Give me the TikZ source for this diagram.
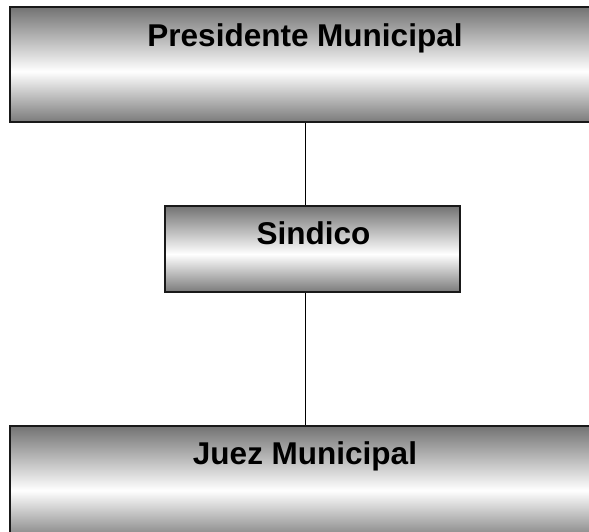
\documentclass[tikz,border=0pt]{standalone}
\usepackage{fontspec}
\setmainfont{Liberation Sans}
\usetikzlibrary{positioning}
\usetikzlibrary{calc}

\pgfdeclareverticalshading{metal}{100bp}{
    color(0bp)=(black!52); color(25bp)=(black!52);
    color(47bp)=(white);
    color(75bp)=(black!55); color(100bp)=(black!55)}

\begin{document}
\begin{tikzpicture}[x=1pt, y=1pt]
    \colorlet{border}{black!90}
\colorlet{wire}{black}

\newcommand\widebox{590}
\newcommand\tallbox{115}
\newcommand\midx{305}

\tikzset{
    secondary/.style={line width=1},
    office/.style={
        draw=border, line width=1.3, rectangle,
        shading=metal,
        inner sep=0pt,
    },
    wide office/.style={
        office,
        minimum width=\widebox,
        minimum height=\tallbox,
    },
    title/.style={
        anchor=base, inner sep=0pt,
        font=\fontsize{31.5}{36}\selectfont\bfseries,
    },
}

\useasboundingbox (0, 0) rectangle (589, 531);

\begin{scope}
    \node[wide office] at (\midx, 466.5) (pres) {};
    \node[
        office,
        minimum width=295,
        minimum height=86
    ] at (312.5, 282) (sind) {};
    \node[wide office] at (\midx, 47.5) (juez) {};
\end{scope}

    \node[title] at (\midx, 484) (pres-t) {Presidente Municipal};
    \node[title] at (313.5, 287) (sind-t) {Sindico};
    \node[title] at (\midx, 67) (juez-t) {Juez Municipal};

    \draw[wire, secondary] (pres.south) -- (pres.south |- sind.north);
    \draw[wire, secondary] (pres.south |- sind.south) -- (juez.north);
\end{tikzpicture}
\end{document}
